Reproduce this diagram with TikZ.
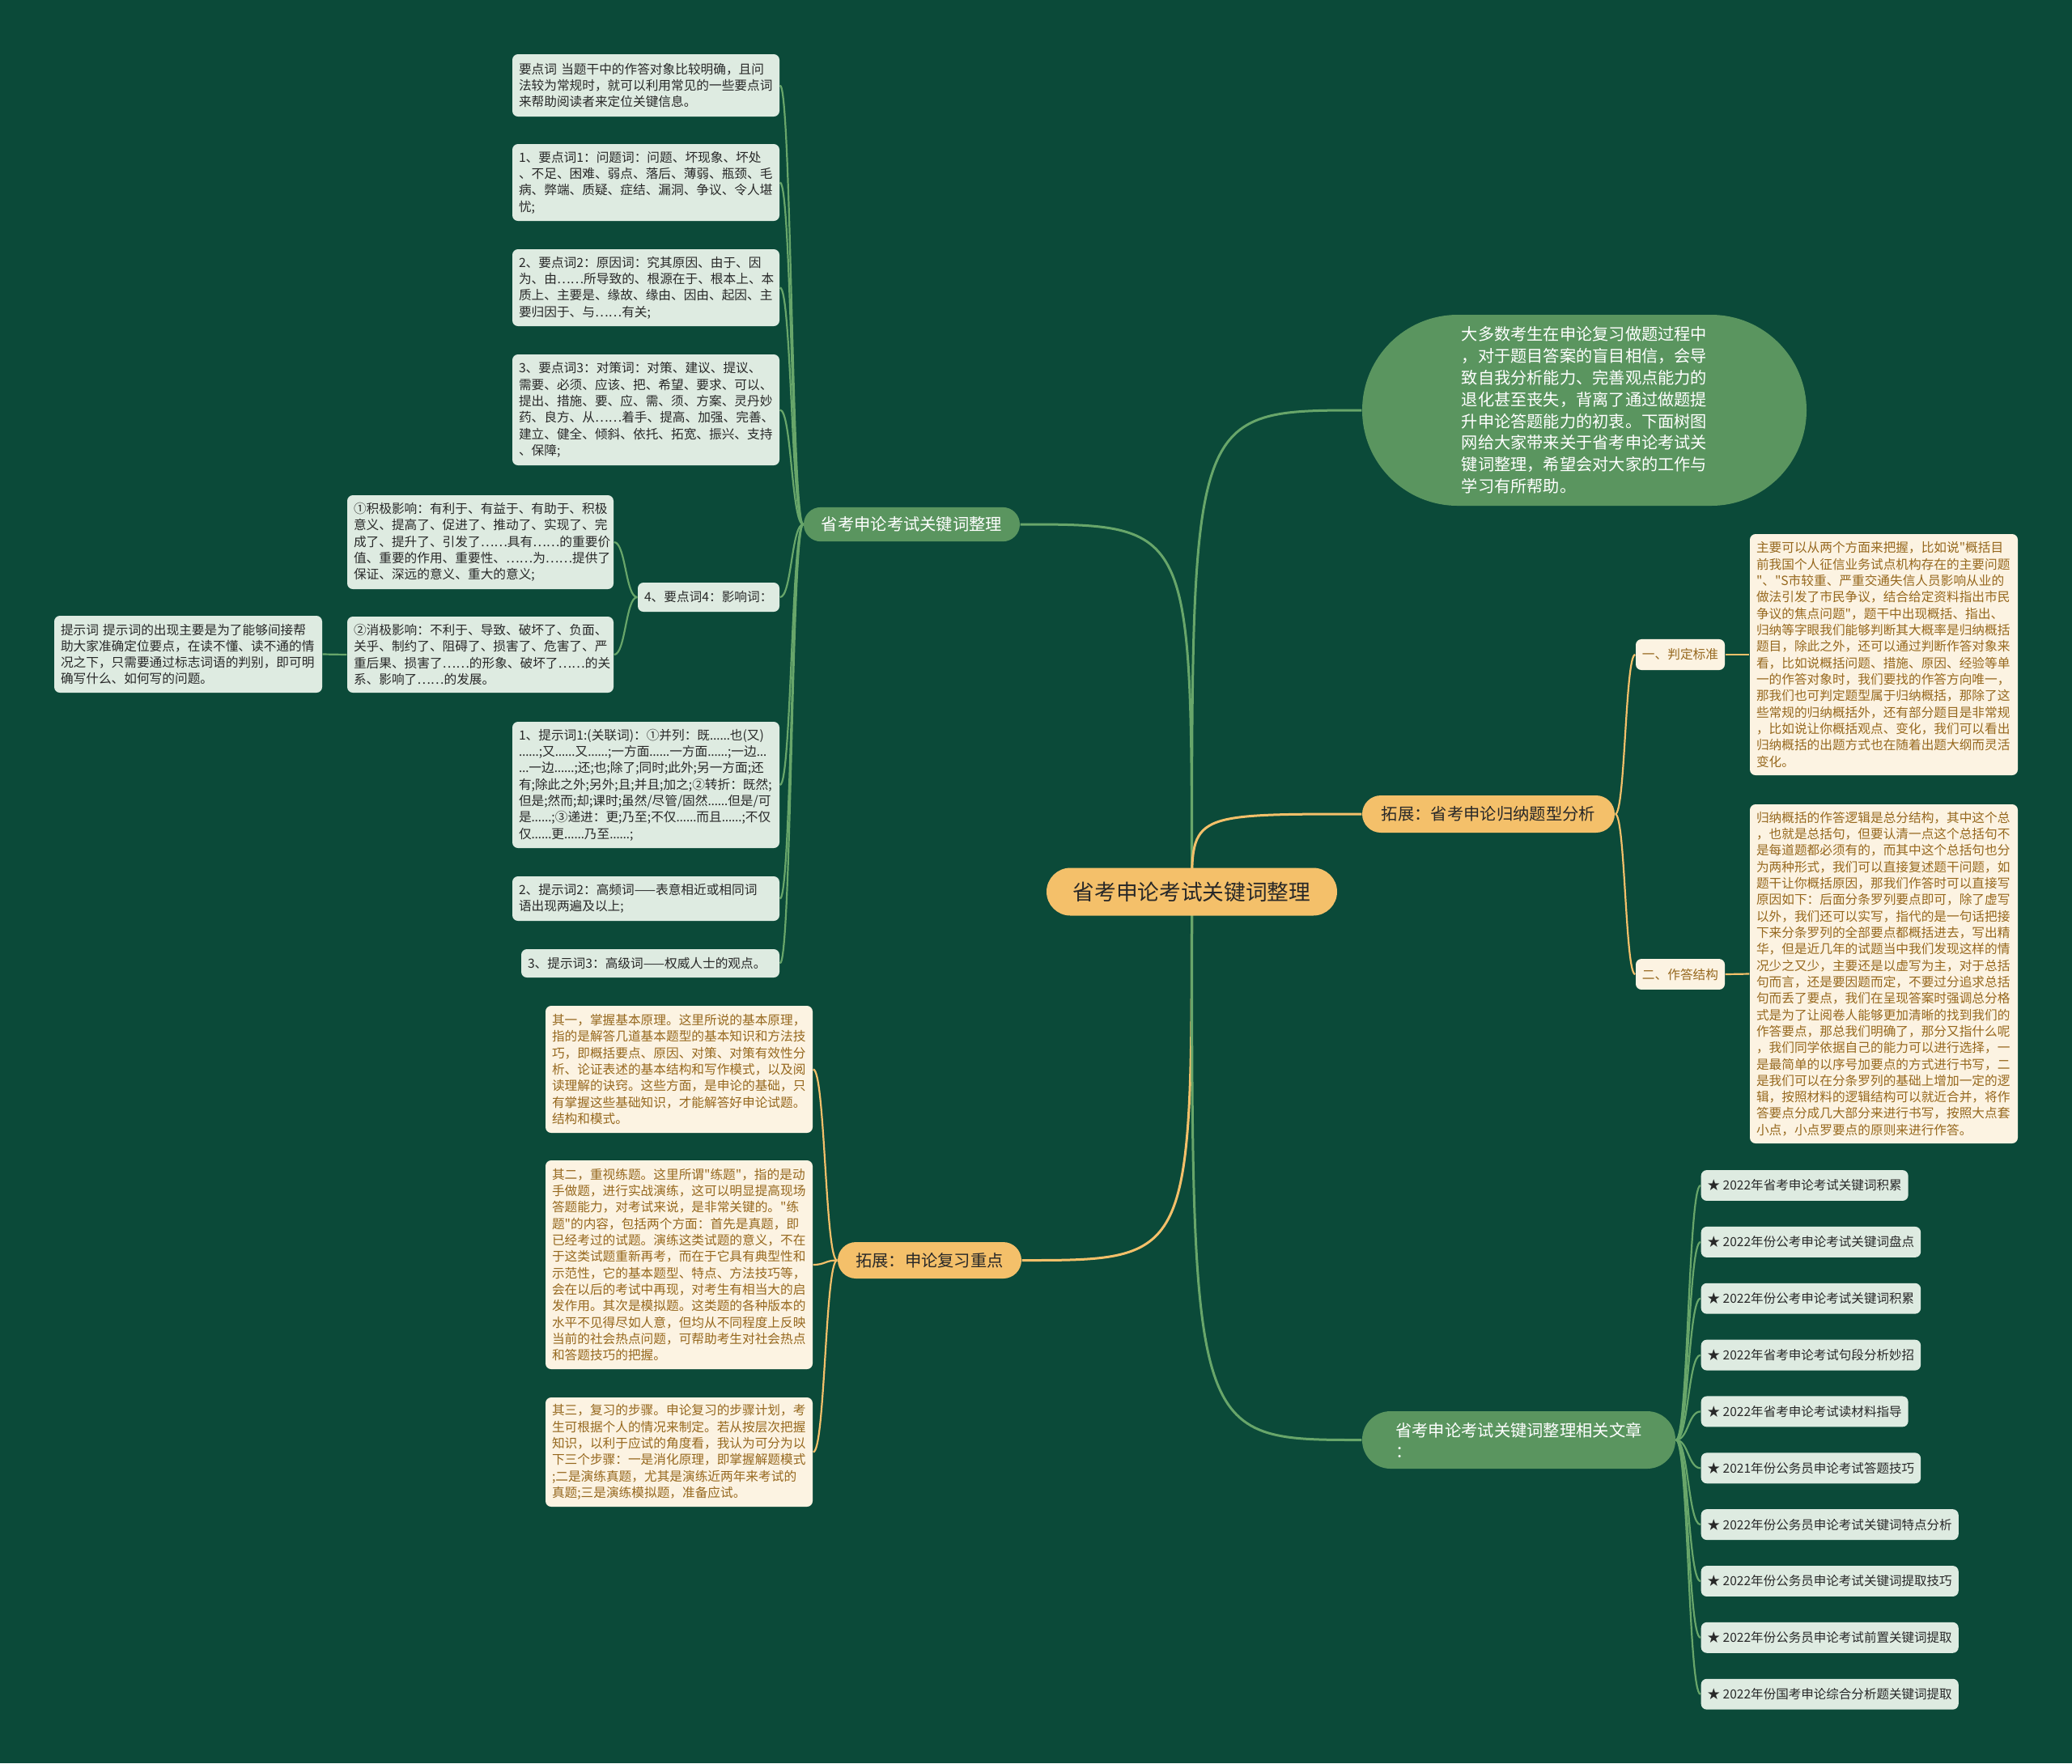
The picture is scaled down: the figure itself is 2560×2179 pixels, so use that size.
\documentclass[tikz,border=0pt]{standalone}
\usepackage{fontspec}
\setmainfont{Noto Sans CJK SC}[Ligatures=TeXOff]
\newfontfamily\latf{Noto Sans}[Ligatures=TeXOff]
\usetikzlibrary{calc}
\definecolor{bgc}{RGB}{11,74,57}
\definecolor{gnodec}{RGB}{90,149,95}
\definecolor{gedgec}{RGB}{104,166,106}
\definecolor{goldc}{RGB}{244,192,106}
\definecolor{lightc}{RGB}{222,235,225}
\definecolor{creamc}{RGB}{252,243,226}
\definecolor{brownt}{RGB}{150,104,30}
\definecolor{darkt}{RGB}{40,40,40}
\newcommand\boxfnt{\fontsize{4.46pt}{5.78pt}\selectfont}
\newcommand\listfnt{\fontsize{4.42pt}{5.78pt}\selectfont}
\newcommand\lonefnt{\fontsize{5.78pt}{7.4pt}\selectfont}
\newcommand\cenfnt{\fontsize{7.6pt}{9pt}\selectfont}
\newcommand\ellfnt{\fontsize{5.75pt}{7.62pt}\selectfont}
\newcommand\ee{{\latf ……}}
\newcommand\ea{{\latf …}}
\pgfdeclarelayer{bgl}
\pgfdeclarelayer{edl}
\pgfsetlayers{bgl,edl,main}
\newcommand\edgeR[3]{\draw[#1] (#2.east) .. controls ($(#2.east)!0.5!(#3.west |- #2.east)$) and ($(#3.west)!0.5!(#2.east |- #3.west)$) .. (#3.west);}
\newcommand\edgeL[3]{\draw[#1] (#2.west) .. controls ($(#2.west)!0.5!(#3.east |- #2.west)$) and ($(#3.east)!0.5!(#2.west |- #3.east)$) .. (#3.east);}
\tikzset{
 lbx/.style={fill=lightc, text=darkt, font=\boxfnt, align=left, rounded corners=0.7mm, inner xsep=0.8mm, inner ysep=0.8mm, text width=31.4mm},
 cbx/.style={fill=creamc, text=brownt, font=\boxfnt, align=left, rounded corners=0.7mm, inner xsep=0.8mm, inner ysep=0.8mm, text width=31.4mm},
 sml/.style={fill=creamc, text=brownt, font=\boxfnt, rounded corners=0.7mm, minimum width=11mm, minimum height=3.4mm, inner xsep=0.5mm},
 lst/.style={fill=lightc, text=darkt, font=\listfnt, anchor=west, rounded corners=0.7mm, inner xsep=0.8mm, minimum height=3.6mm},
 gnode/.style={fill=gnodec, text=white, font=\lonefnt, align=center},
 onode/.style={fill=goldc, text=darkt, font=\lonefnt, align=center},
 gedge/.style={draw=gedgec, line width=0.22mm},
 oedge/.style={draw=goldc, line width=0.22mm},
 gmain/.style={draw=gedgec, line width=0.3mm},
 omain/.style={draw=goldc, line width=0.3mm}
}
\begin{document}
\begin{tikzpicture}[x=0.1mm,y=-0.1mm]
\useasboundingbox (0,0) rectangle (2560,2179);
\begin{pgfonlayer}{bgl}
\fill[bgc] (0,0) rectangle (2560,2179);
\end{pgfonlayer}

% central
\node[onode, font=\cenfnt, minimum width=35.9mm, minimum height=5.9mm, rounded corners=2.95mm] (C) at (1472.5,1102) {省考申论考试关键词整理};

% level 1
\node[gnode, minimum width=26.7mm, minimum height=4.2mm, rounded corners=2.1mm] (B1) at (1126.5,648) {省考申论考试关键词整理};
\node[onode, minimum width=31.2mm, minimum height=4.6mm, rounded corners=2.3mm] (B2) at (1839,1006) {拓展：省考申论归纳题型分析};
\node[onode, minimum width=22.7mm, minimum height=4.5mm, rounded corners=2.25mm] (B3) at (1148.5,1557.5) {拓展：申论复习重点};
\node[gnode, align=left, minimum width=38.7mm, minimum height=7.1mm, rounded corners=3.5mm] (B4) at (1876.5,1779.5) {省考申论考试关键词整理相关文章\\：};
\node[gnode, font=\ellfnt, align=left, minimum width=54.9mm, minimum height=23.6mm, rounded corners=11.8mm] (E) at (1957.5,507) {大多数考生在申论复习做题过程中\\，对于题目答案的盲目相信，会导\\致自我分析能力、完善观点能力的\\退化甚至丧失，背离了通过做题提\\升申论答题能力的初衷。下面树图\\网给大家带来关于省考申论考试关\\键词整理，希望会对大家的工作与\\学习有所帮助。};

% left branch children
\node[lbx, minimum height=7.7mm] (L1) at (798,105.5) {要点词~当题干中的作答对象比较明确，且问\\法较为常规时，就可以利用常见的一些要点词\\来帮助阅读者来定位关键信息。};
\node[lbx, minimum height=9.5mm] (L2) at (798,225.5) {1、要点词1：问题词：问题、坏现象、坏处\\、不足、困难、弱点、落后、薄弱、瓶颈、毛\\病、弊端、质疑、症结、漏洞、争议、令人堪\\忧;};
\node[lbx, minimum height=9.5mm] (L3) at (798,355.5) {2、要点词2：原因词：究其原因、由于、因\\为、由……所导致的、根源在于、根本上、本\\质上、主要是、缘故、缘由、因由、起因、主\\要归因于、与……有关;};
\node[lbx, minimum height=13.7mm] (L4) at (798,506.5) {3、要点词3：对策词：对策、建议、提议、\\需要、必须、应该、把、希望、要求、可以、\\提出、措施、要、应、需、须、方案、灵丹妙\\药、良方、从……着手、提高、加强、完善、\\建立、健全、倾斜、依托、拓宽、振兴、支持\\、保障;};
\node[lbx, text width=15.9mm, minimum height=3.6mm] (L5) at (875.5,738) {4、要点词4：影响词：};
\node[lbx, minimum height=15.6mm] (L6) at (798,970) {1、提示词1:(关联词)：①并列：既\ee 也(又)\\\ee;又\ee 又\ee;一方面\ee 一方面\ee;一边\ea\\\ea 一边\ee;还;也;除了;同时;此外;另一方面;还\\有;除此之外;另外;且;并且;加之;②转折：既然;\\但是;然而;却;课时;虽然/尽管/固然\ee 但是/可\\是\ee;③递进：更;乃至;不仅\ee 而且\ee;不仅\\仅\ee 更\ee 乃至\ee;};
\node[lbx, minimum height=5.5mm] (L7) at (798,1110.5) {2、提示词2：高频词——表意相近或相同词\\语出现两遍及以上;};
\node[lbx, text width=30.3mm, minimum height=3.5mm] (L8) at (803.5,1190.5) {3、提示词3：高级词——权威人士的观点。};

\node[lbx, text width=31.3mm, minimum height=11.6mm] (K1) at (593.5,670) {①积极影响：有利于、有益于、有助于、积极\\意义、提高了、促进了、推动了、实现了、完\\成了、提升了、引发了……具有……的重要价\\值、重要的作用、重要性、……为……提供了\\保证、深远的意义、重大的意义;};
\node[lbx, text width=31.3mm, minimum height=9.4mm] (K2) at (593.5,809) {②消极影响：不利于、导致、破坏了、负面、\\关乎、制约了、阻碍了、损害了、危害了、严\\重后果、损害了……的形象、破坏了……的关\\系、影响了……的发展。};
\node[lbx, text width=31.5mm, minimum height=9.5mm] (T) at (232.5,808.5) {提示词~提示词的出现主要是为了能够间接帮\\助大家准确定位要点，在读不懂、读不通的情\\况之下，只需要通过标志词语的判别，即可明\\确写什么、如何写的问题。};

% gold left children
\node[cbx, minimum height=15.7mm] (G1) at (839,1321.5) {其一，掌握基本原理。这里所说的基本原理，\\指的是解答几道基本题型的基本知识和方法技\\巧，即概括要点、原因、对策、对策有效性分\\析、论证表述的基本结构和写作模式，以及阅\\读理解的诀窍。这些方面，是申论的基础，只\\有掌握这些基础知识，才能解答好申论试题。\\结构和模式。};
\node[cbx, minimum height=25.8mm] (G2) at (839,1563) {其二，重视练题。这里所谓"练题"，指的是动\\手做题，进行实战演练，这可以明显提高现场\\答题能力，对考试来说，是非常关键的。"练\\题"的内容，包括两个方面：首先是真题，即\\已经考过的试题。演练这类试题的意义，不在\\于这类试题重新再考，而在于它具有典型性和\\示范性，它的基本题型、特点、方法技巧等，\\会在以后的考试中再现，对考生有相当大的启\\发作用。其次是模拟题。这类题的各种版本的\\水平不见得尽如人意，但均从不同程度上反映\\当前的社会热点问题，可帮助考生对社会热点\\和答题技巧的把握。};
\node[cbx, minimum height=13.5mm] (G3) at (839,1794.5) {其三，复习的步骤。申论复习的步骤计划，考\\生可根据个人的情况来制定。若从按层次把握\\知识，以利于应试的角度看，我认为可分为以\\下三个步骤：一是消化原理，即掌握解题模式\\;二是演练真题，尤其是演练近两年来考试的\\真题;三是演练模拟题，准备应试。};

% right gold children
\node[sml] (P1) at (2076,809) {一、判定标准};
\node[sml] (P2) at (2076,1204) {二、作答结构};
\node[cbx, text width=31.5mm, minimum height=29.8mm] (R1) at (2327.5,809) {主要可以从两个方面来把握，比如说"概括目\\前我国个人征信业务试点机构存在的主要问题\\"、"S市较重、严重交通失信人员影响从业的\\做法引发了市民争议，结合给定资料指出市民\\争议的焦点问题"，题干中出现概括、指出、\\归纳等字眼我们能够判断其大概率是归纳概括\\题目，除此之外，还可以通过判断作答对象来\\看，比如说概括问题、措施、原因、经验等单\\一的作答对象时，我们要找的作答方向唯一，\\那我们也可判定题型属于归纳概括，那除了这\\些常规的归纳概括外，还有部分题目是非常规\\，比如说让你概括观点、变化，我们可以看出\\归纳概括的出题方式也在随着出题大纲而灵活\\变化。};
\node[cbx, text width=31.5mm, minimum height=41.9mm] (R2) at (2327.5,1203.5) {归纳概括的作答逻辑是总分结构，其中这个总\\，也就是总括句，但要认清一点这个总括句不\\是每道题都必须有的，而其中这个总括句也分\\为两种形式，我们可以直接复述题干问题，如\\题干让你概括原因，那我们作答时可以直接写\\原因如下：后面分条罗列要点即可，除了虚写\\以外，我们还可以实写，指代的是一句话把接\\下来分条罗列的全部要点都概括进去，写出精\\华，但是近几年的试题当中我们发现这样的情\\况少之又少，主要还是以虚写为主，对于总括\\句而言，还是要因题而定，不要过分追求总括\\句而丢了要点，我们在呈现答案时强调总分格\\式是为了让阅卷人能够更加清晰的找到我们的\\作答要点，那总我们明确了，那分又指什么呢\\，我们同学依据自己的能力可以进行选择，一\\是最简单的以序号加要点的方式进行书写，二\\是我们可以在分条罗列的基础上增加一定的逻\\辑，按照材料的逻辑结构可以就近合并，将作\\答要点分成几大部分来进行书写，按照大点套\\小点，小点罗要点的原则来进行作答。};

% list
\node[lst] (A1) at (2101,1465) {★ 2022年省考申论考试关键词积累};
\node[lst] (A2) at (2101,1534.9) {★ 2022年份公考申论考试关键词盘点};
\node[lst] (A3) at (2101,1604.7) {★ 2022年份公考申论考试关键词积累};
\node[lst] (A4) at (2101,1674.6) {★ 2022年省考申论考试句段分析妙招};
\node[lst] (A5) at (2101,1744.4) {★ 2022年省考申论考试读材料指导};
\node[lst] (A6) at (2101,1814.3) {★ 2021年份公务员申论考试答题技巧};
\node[lst] (A7) at (2101,1884.1) {★ 2022年份公务员申论考试关键词特点分析};
\node[lst] (A8) at (2101,1954) {★ 2022年份公务员申论考试关键词提取技巧};
\node[lst] (A9) at (2101,2023.8) {★ 2022年份公务员申论考试前置关键词提取};
\node[lst] (A10) at (2101,2093.7) {★ 2022年份国考申论综合分析题关键词提取};

\begin{pgfonlayer}{edl}
\draw[gmain] (C.center) .. controls (C.center |- B1.east) .. (B1.east);
\draw[gmain] (C.center) .. controls (C.center |- E.west) .. (E.west);
\draw[omain] (C.center) .. controls (C.center |- B2.west) .. (B2.west);
\draw[omain] (C.center) .. controls (C.center |- B3.east) .. (B3.east);
\draw[gmain] (C.center) .. controls (C.center |- B4.west) .. (B4.west);
\edgeL{gedge}{B1}{L1}
\edgeL{gedge}{B1}{L2}
\edgeL{gedge}{B1}{L3}
\edgeL{gedge}{B1}{L4}
\edgeL{gedge}{B1}{L5}
\edgeL{gedge}{B1}{L6}
\edgeL{gedge}{B1}{L7}
\edgeL{gedge}{B1}{L8}
\edgeL{gedge}{L5}{K1}
\edgeL{gedge}{L5}{K2}
\edgeL{gedge}{K2}{T}
\edgeL{oedge}{B3}{G1}
\edgeL{oedge}{B3}{G2}
\edgeL{oedge}{B3}{G3}
\edgeR{oedge}{B2}{P1}
\edgeR{oedge}{B2}{P2}
\edgeR{oedge}{P1}{R1}
\edgeR{oedge}{P2}{R2}
\edgeR{gedge}{B4}{A1}
\edgeR{gedge}{B4}{A2}
\edgeR{gedge}{B4}{A3}
\edgeR{gedge}{B4}{A4}
\edgeR{gedge}{B4}{A5}
\edgeR{gedge}{B4}{A6}
\edgeR{gedge}{B4}{A7}
\edgeR{gedge}{B4}{A8}
\edgeR{gedge}{B4}{A9}
\edgeR{gedge}{B4}{A10}
\end{pgfonlayer}
\end{tikzpicture}
\end{document}
